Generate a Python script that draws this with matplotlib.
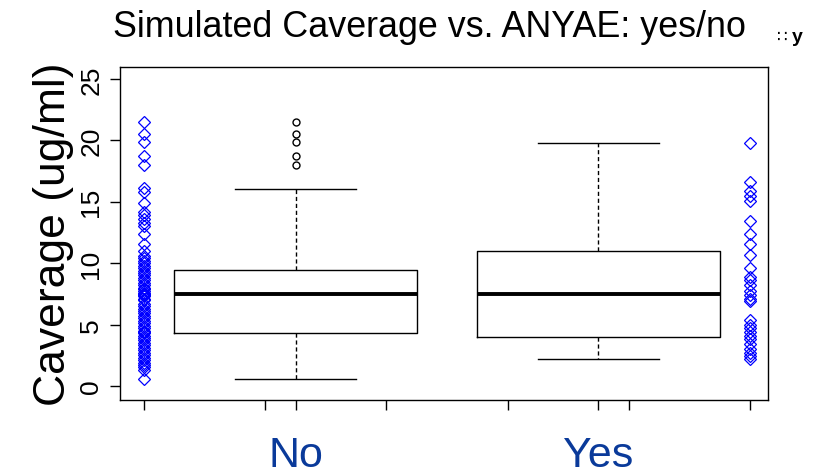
import matplotlib

matplotlib.use("Agg")

import matplotlib.pyplot as plt

plt.rcParams["font.family"] = ["Liberation Sans", "DejaVu Sans"]

# group labels and where each group's box sits on the x axis
groups = ["No", "Yes"]
box_pos = [2.25, 4.75]
strip_pos = [1.0, 6.0]
tick_pos = [1, 2, 3, 4, 5, 6]

# five-number summaries (ug/ml): low whisker, Q1, median, Q3, high whisker
whisker_lo = [0.6, 2.2]
q1 = [4.35, 4.0]
median = [7.45, 7.45]
q3 = [9.45, 11.0]
whisker_hi = [16.05, 19.75]
outliers_no = [21.5, 20.5, 19.9, 18.7, 18.0]
outliers_yes = []

# individual Caverage values per group
caverage_no = [
    21.5, 20.5, 19.9, 18.7, 18.0, 16.1, 15.8, 14.9, 14.2, 13.9, 13.6, 13.3,
    13.0, 12.4, 11.6, 11.0, 10.6, 10.4, 10.2, 10.0, 9.8, 9.6, 9.4, 9.2,
    9.0, 8.8, 8.6, 8.4, 8.2, 8.0, 7.9, 7.7, 7.6, 7.5, 7.4, 7.3, 7.1, 7.0,
    6.7, 6.5, 6.3, 6.1, 5.9, 5.7, 5.5, 5.3, 5.1, 4.9, 4.7, 4.5, 4.4, 4.3,
    4.1, 3.9, 3.7, 3.5, 3.3, 3.1, 2.9, 2.7, 2.5, 2.3, 2.1, 1.9, 1.7, 1.5,
    1.3, 0.6,
]
caverage_yes = [
    19.75, 16.6, 15.9, 15.5, 15.1, 13.4, 12.4, 11.6, 10.7, 9.6, 8.9, 8.6,
    8.2, 7.7, 7.4, 7.1, 6.9, 5.4, 5.0, 4.7, 4.4, 4.1, 3.8, 3.4, 3.0, 2.7,
    2.4, 2.2,
]

fig = plt.figure(figsize=(8.19, 4.77), dpi=100)
ax = fig.add_axes([0.1465, 0.1593, 0.7912, 0.6981])

stats = []
fliers = [outliers_no, outliers_yes]
for i, name in enumerate(groups):
    stats.append({
        "label": name,
        "whislo": whisker_lo[i],
        "q1": q1[i],
        "med": median[i],
        "q3": q3[i],
        "whishi": whisker_hi[i],
        "fliers": fliers[i],
    })

ax.bxp(
    stats,
    positions=box_pos,
    widths=2.0,
    capwidths=1.0,
    boxprops=dict(color="black", linewidth=1.0),
    medianprops=dict(color="black", linewidth=2.8, solid_capstyle="butt"),
    whiskerprops=dict(color="black", linewidth=1.0, linestyle=(0, (3, 2))),
    capprops=dict(color="black", linewidth=1.0),
    flierprops=dict(marker="o", markerfacecolor="none", markeredgecolor="black",
                    markersize=5, markeredgewidth=1.0),
    manage_ticks=False,
)

for xpos, vals in zip(strip_pos, [caverage_no, caverage_yes]):
    ax.plot([xpos] * len(vals), vals, linestyle="none", marker="D",
            markersize=6, markerfacecolor="none", markeredgecolor="#0000ff",
            markeredgewidth=0.9)

ax.set_xlim(0.8, 6.15)
ax.set_ylim(-1.15, 25.98)
ax.set_xticks(tick_pos + box_pos)
ax.set_xticklabels([])
ax.set_yticks([0, 5, 10, 15, 20, 25])
ax.set_yticklabels(["0", "5", "10", "15", "20", "25"], rotation=90, va="center",
                   fontsize=19)
ax.tick_params(axis="both", direction="out", length=7, width=1, pad=5)
for side in ax.spines.values():
    side.set_linewidth(1.0)

ax.set_ylabel("Caverage (ug/ml)", fontsize=32, labelpad=4)

# group names sit well below the axis, resting on the bottom edge
for xpos, name in zip(box_pos, groups):
    ax.text(xpos, 0.0015, name,
            transform=matplotlib.transforms.blended_transform_factory(ax.transData, fig.transFigure),
            ha="center", va="bottom", fontsize=31, color="#0a3a9a")

fig.text(113 / 819, 1 - 37 / 477, "Simulated Caverage vs. ANYAE: yes/no",
         ha="left", va="baseline", fontsize=25.8)
fig.text(777 / 819, 1 - 42 / 477, "\u2237", ha="left", va="baseline",
         fontsize=12, family=["DejaVu Sans"])
fig.text(792 / 819, 1 - 42 / 477, "y", ha="left", va="baseline",
         fontsize=14, fontweight="bold")

fig.savefig("out.png", dpi=100)
